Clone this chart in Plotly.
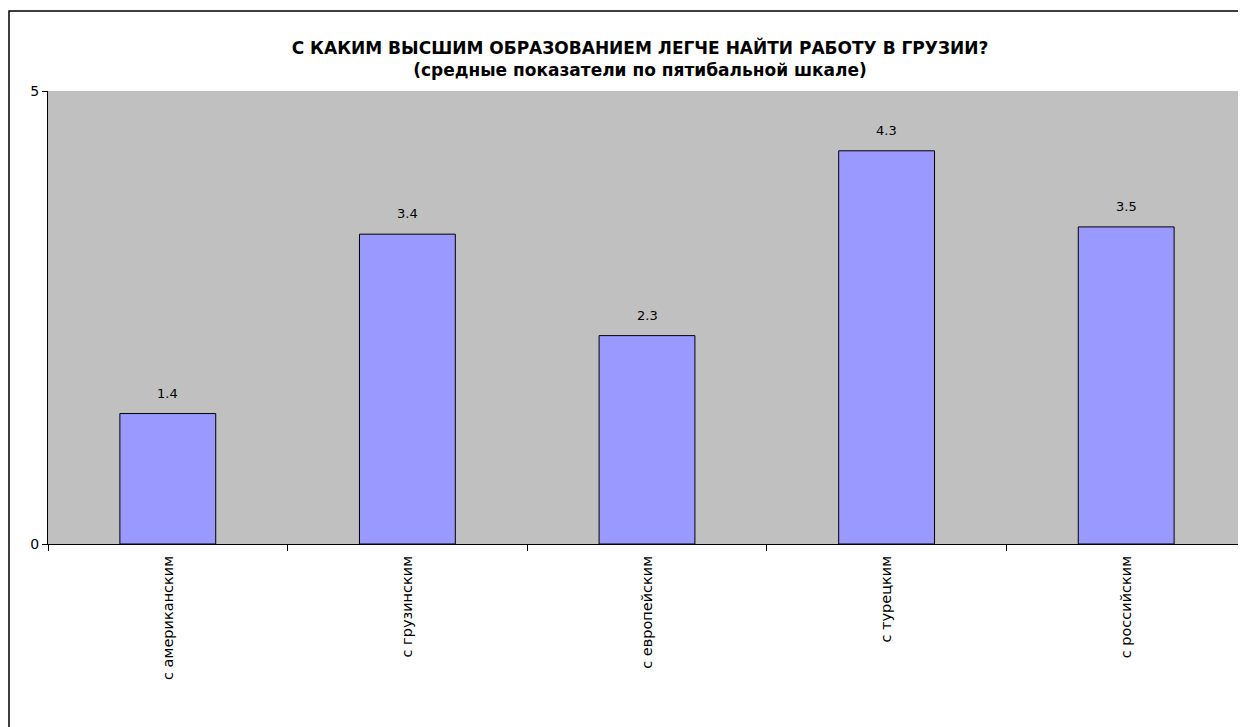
import plotly.graph_objects as go

categories = ["с американским", "с грузинским", "с европейским", "с турецким", "с российским"]
values = [1.44, 3.42, 2.30, 4.34, 3.50]
y_ticks = [0, 5]

OFF = 8  # default page body margin
L, R, T, B = 48 - OFF, 0, 91 - OFF, 183
W, H = 1246 - OFF, 727 - OFF
pw, ph = W - L - R, H - T - B

FONT = "DejaVu Sans, Liberation Sans, Arial"

fig = go.Figure()
fig.add_trace(go.Bar(
    x=categories, y=values,
    marker=dict(color="#9999FF", line=dict(color="black", width=1)),
    width=0.4,
))

annotations = [
    dict(x=c, y=v, xref="x", yref="y", text=f"{v:.1f}", showarrow=False,
         yanchor="bottom", yshift=11, font=dict(family=FONT, size=13, color="black"))
    for c, v in zip(categories, values)
]

fig.update_layout(
    width=W, height=H,
    margin=dict(l=L, r=R, t=T, b=B, pad=0),
    paper_bgcolor="white", plot_bgcolor="#C0C0C0",
    showlegend=False,
    font=dict(family=FONT, size=13, color="black"),
    title=dict(
        text="<b>С КАКИМ ВЫСШИМ ОБРАЗОВАНИЕМ ЛЕГЧЕ НАЙТИ РАБОТУ В ГРУЗИИ?</b><br><b>(средные показатели по пятибальной шкале)</b>",
        x=(640 - OFF - L) / pw, xref="paper", xanchor="center",
        y=1 - (54 - OFF) / H, yref="container", yanchor="middle",
        font=dict(size=17, family=FONT),
    ),
    xaxis=dict(
        type="category", tickangle=-90, showline=True, linecolor="black", linewidth=1,
        ticks="outside", ticklen=6, tickcolor="black", tickson="boundaries",
        tickfont=dict(size=14.5, family=FONT), showgrid=False, range=[-0.5, 4.5],
        ticklabelstandoff=5,
    ),
    yaxis=dict(
        range=[0, 5], tickvals=y_ticks, showline=True, linecolor="black", linewidth=1,
        ticks="outside", ticklen=5, tickcolor="black", showgrid=False, zeroline=False,
        tickfont=dict(size=14, family=FONT),
    ),
    annotations=annotations,
    shapes=[dict(
        type="rect", xref="paper", yref="paper",
        x0=(9 - OFF - L) / pw, x1=(W - L + 10) / pw,
        y0=-1.0, y1=(H - B - (11 - OFF)) / ph,
        line=dict(color="black", width=1.5), fillcolor="rgba(0,0,0,0)", layer="below",
    )],
)

fig.write_html("out.html", config={"displayModeBar": False})
